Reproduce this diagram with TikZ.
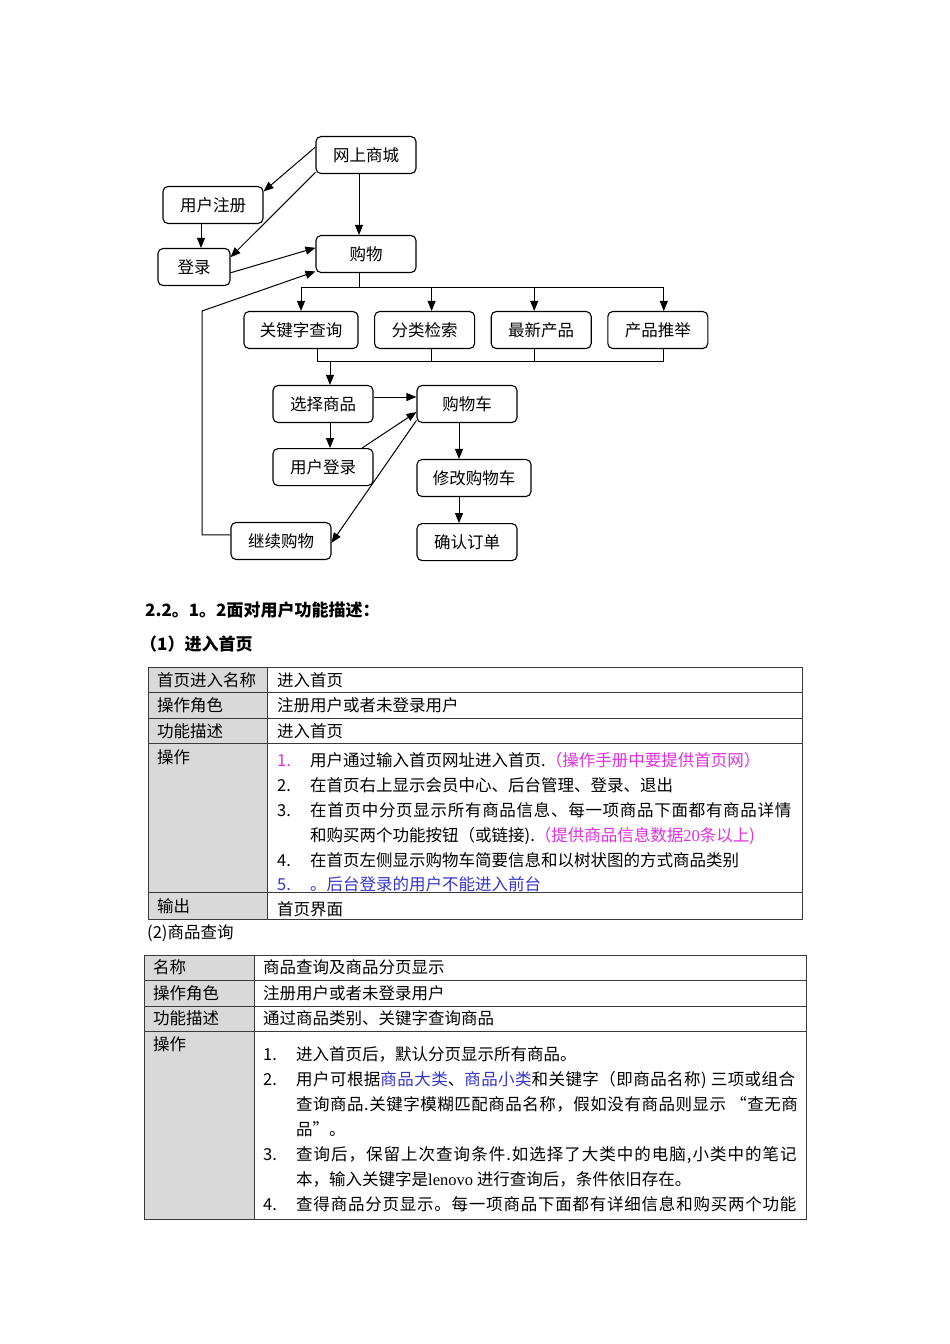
\documentclass[tikz,border=0pt]{standalone}
\usepackage{fontspec}
\setmainfont{Noto Sans CJK SC}
\newfontfamily\latfont{Liberation Serif}
\usetikzlibrary{arrows.meta,positioning}
\definecolor{cellgray}{HTML}{D9D9D9}
\definecolor{rule}{HTML}{3A3A3A}
\definecolor{note}{HTML}{E030E0}
\definecolor{linkblue}{HTML}{3535C8}

\begin{document}
\begin{tikzpicture}[
  x=1pt, y=-1pt,
  font=\fontsize{16.5}{20}\selectfont,
  line/.style={draw=black, line width=1pt},
  arrow/.style={line, -{Triangle[length=10pt,width=8pt]}},
  box/.style={draw=black, line width=1.1pt, rounded corners=5pt, minimum width=100pt, minimum height=37pt, inner sep=2pt},
  widebox/.style={box, minimum width=114pt},
  grid/.style={draw=rule, line width=1pt},
  txt/.style={anchor=west, inner sep=0pt, text height=14.5pt, text depth=2pt},
  spread/.style={txt, font=\fontsize{16.5}{20}\selectfont\addfontfeature{LetterSpace=#1}},
  head/.style={txt, font=\fontsize{17}{20}\selectfont\bfseries}
]
\useasboundingbox (0,0) rectangle (950,1344);

% flow chart
\node[box] (mall) at (366,155) {网上商城};
\node[box] (signup) at (213,205) {用户注册};
\node[box, minimum width=72pt] (login) at (194,267) {登录};
\node[box] (shop) at (366,254) {购物};
\node[widebox] (keyword) at (301,330) {关键字查询};
\node[box, right=15.5pt of keyword] (browse) {分类检索};
\node[box, right=15.5pt of browse] (newest) {最新产品};
\node[box, right=15.5pt of newest] (recommend) {产品推举};
\node[box] (select) at (323,404) {选择商品};
\node[box] (cart) at (467,404) {购物车};
\node[box, below=25pt of select] (userlogin) {用户登录};
\node[widebox] (editcart) at (474,478) {修改购物车};
\node[box, below=26pt of editcart.south -| cart, anchor=north] (confirm) {确认订单};
\node[box] (goon) at (281,541) {继续购物};

\draw[arrow] (mall.171) -- (signup.15);
\draw[arrow] (mall.199) -- (login.15);
\draw[arrow] ([xshift=-7pt]mall.south) -- ([xshift=-7pt]shop.north);
\draw[arrow] ([xshift=-12pt]signup.south) -- ([xshift=7pt]login.north);
\draw[arrow] (login.351) -- (shop.173);
\coordinate (back) at (202,311);
\draw[arrow] (goon.173) -| (back) -- (shop.199);

\draw[line] ([xshift=-7pt]shop.south) -- ++(0,14) coordinate (split);
\draw[line] (keyword.north |- split) -- ([xshift=6pt]recommend.north |- split);
\draw[arrow] (keyword.north |- split) -- (keyword.north);
\draw[arrow] ([xshift=7pt]browse.north |- split) -- ([xshift=7pt]browse.north);
\draw[arrow] ([xshift=-7pt]newest.north |- split) -- ([xshift=-7pt]newest.north);
\draw[arrow] ([xshift=6pt]recommend.north |- split) -- ([xshift=6pt]recommend.north);

\draw[line] ([xshift=16pt]keyword.south) -- ++(0,12) coordinate (join) -- ([xshift=6pt]recommend.south |- join);
\draw[line] ([xshift=7pt]browse.south) -- ([xshift=7pt]browse.south |- join);
\draw[line] ([xshift=-7pt]newest.south) -- ([xshift=-7pt]newest.south |- join);
\draw[line] ([xshift=6pt]recommend.south) -- ([xshift=6pt]recommend.south |- join);
\draw[arrow] ([xshift=7pt]select.north |- join) -- ([xshift=7pt]select.north);

\draw[arrow] ([yshift=7pt]select.east) -- ([yshift=7pt]cart.west);
\draw[arrow] ([xshift=7pt]select.south) -- ([xshift=7pt]userlogin.north);
\draw[arrow] (userlogin.26) -- (cart.189);
\draw[arrow] (cart.198) -- (goon.358);
\draw[arrow] ([xshift=-8pt]cart.south) -- ([xshift=-15pt]editcart.north);
\draw[arrow] ([xshift=-15pt]editcart.south) -- ([xshift=-8pt]confirm.north);

% headings
\node[head] (sect) at (145,610) {2.2。1。2面对用户功能描述：};
\node[head] (sub1) at (140,644) {（1）进入首页};

% table 1
\fill[cellgray] (148,667) rectangle (267,919);
\draw[grid] (148,667) rectangle (802,919);
\draw[grid] (267,667) -- (267,919);
\draw[grid] (148,692) -- (802,692) (148,718) -- (802,718) (148,743) -- (802,743) (148,892) -- (802,892);

\node[txt] (ka) at (157,680) {首页进入名称};
\node[txt] (va) at (277,680) {进入首页};
\node[txt] (kb) at (157,705) {操作角色};
\node[txt] (vb) at (277,705) {注册用户或者未登录用户};
\node[txt] (kc) at (157,731) {功能描述};
\node[txt] (vc) at (277,731) {进入首页};
\node[txt] (kd) at (157,757) {操作};
\node[txt, text=note] (na) at (277,760) {1.};
\node[txt] (la) at (310,760) {用户通过输入首页网址进入首页.\textcolor{note}{（操作手册中要提供首页网）}};
\node[txt] (nb) at (277,785) {2.};
\node[txt] (lb) at (310,785) {在首页右上显示会员中心、后台管理、登录、退出};
\node[txt] (nc) at (277,810) {3.};
\node[spread=4.3] (lc) at (310,810) {在首页中分页显示所有商品信息、每一项商品下面都有商品详情};
\node[txt] (lc2) at (310,835) {和购买两个功能按钮（或链接).\textcolor{note}{（提供商品信息数据{\latfont 20}条以上)}};
\node[txt] (nd) at (277,860) {4.};
\node[txt] (ld) at (310,860) {在首页左侧显示购物车简要信息和以树状图的方式商品类别};
\node[txt, text=linkblue] (ne) at (277,884) {5.};
\node[txt, text=linkblue] (le) at (310,884) {。后台登录的用户不能进入前台};
\node[txt] (ke) at (157,906) {输出};
\node[txt] (ve) at (277,909) {首页界面};

% table 2
\node[txt] (sub2) at (147,932) {(2)商品查询};

\fill[cellgray] (144,955) rectangle (254,1219);
\draw[grid] (144,955) rectangle (806,1219);
\draw[grid] (254,955) -- (254,1219);
\draw[grid] (144,980) -- (806,980) (144,1006) -- (806,1006) (144,1031) -- (806,1031);

\node[txt] (qa) at (153,967) {名称};
\node[txt] (ra) at (263,967) {商品查询及商品分页显示};
\node[txt] (qb) at (153,993) {操作角色};
\node[txt] (rb) at (263,993) {注册用户或者未登录用户};
\node[txt] (qc) at (153,1018) {功能描述};
\node[txt] (rc) at (263,1018) {通过商品类别、关键字查询商品};
\node[txt] (qd) at (153,1044) {操作};
\node[txt] (ma) at (263,1054) {1.};
\node[txt] (pa) at (296,1054) {进入首页后，默认分页显示所有商品。};
\node[txt] (mb) at (263,1079) {2.};
\node[spread=2.7] (pb) at (296,1079) {用户可根据\textcolor{linkblue}{商品大类}、\textcolor{linkblue}{商品小类}和关键字（即商品名称) 三项或组合};
\node[spread=3.1] (pb2) at (296,1104) {查询商品.关键字模糊匹配商品名称，假如没有商品则显示 “查无商};
\node[txt] (pb3) at (296,1129) {品\symbol{"22}。};
\node[txt] (mc) at (263,1154) {3.};
\node[spread=6.1] (pc) at (296,1154) {查询后，保留上次查询条件.如选择了大类中的电脑,小类中的笔记};
\node[txt] (pc2) at (296,1179) {本，输入关键字是{\latfont lenovo} 进行查询后，条件依旧存在。};
\node[txt] (md) at (263,1204) {4.};
\node[spread=4.7] (pd) at (296,1204) {查得商品分页显示。每一项商品下面都有详细信息和购买两个功能};

\end{tikzpicture}
\end{document}
